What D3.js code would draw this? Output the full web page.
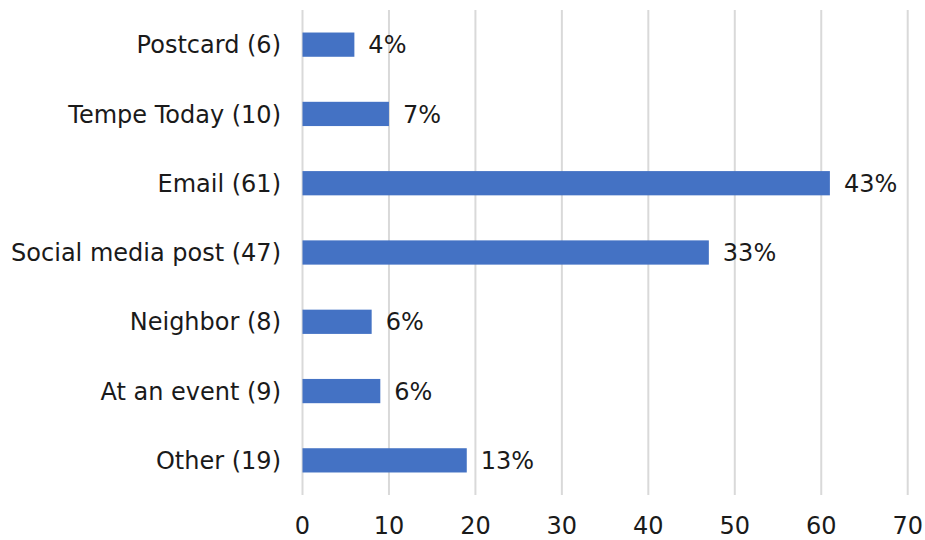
<!DOCTYPE html>
<html><head><meta charset="utf-8">
<script src="https://cdn.jsdelivr.net/npm/d3@7"></script>
<style>body{margin:0;background:#fff}text{font-family:"DejaVu Sans", sans-serif;fill:#1a1a1a}</style>
</head><body>
<svg id="c" width="925" height="540"></svg>
<script>
const categories = ["Postcard (6)","Tempe Today (10)","Email (61)","Social media post (47)","Neighbor (8)","At an event (9)","Other (19)"];
const counts = [6,10,61,47,8,9,19];
const percentLabels = ["4%","7%","43%","33%","6%","6%","13%"];
const xTicks = [0,10,20,30,40,50,60,70];

const svg = d3.select("#c");
const m = {left:302.5, right:17.3, top:10, bottom:45};
const W = 925, H = 540;
const FS = 24;
const x = d3.scaleLinear().domain([0,70]).range([m.left, W - m.right]);
const y = d3.scaleBand().domain(categories).range([m.top, H - m.bottom]).paddingInner(0.65).paddingOuter(0.325);

svg.append("g").selectAll("line").data(xTicks).join("line")
  .attr("x1", d=>x(d)).attr("x2", d=>x(d)).attr("y1", m.top).attr("y2", H - m.bottom)
  .attr("stroke", "#d9d9d9").attr("stroke-width", 2);

svg.append("g").selectAll("rect").data(counts).join("rect")
  .attr("x", x(0)).attr("y", (d,i)=>y(categories[i]))
  .attr("width", d=>x(d)-x(0)).attr("height", y.bandwidth())
  .attr("fill", "#4472c4");

svg.append("g").selectAll("text").data(percentLabels).join("text")
  .attr("x", (d,i)=>x(counts[i]) + 14).attr("y", (d,i)=>y(categories[i]) + y.bandwidth()/2)
  .attr("dy", "0.36em").attr("font-size", FS).text(d=>d);

svg.append("g").selectAll("text").data(categories).join("text")
  .attr("x", 281).attr("y", d=>y(d) + y.bandwidth()/2)
  .attr("dy", "0.36em").attr("text-anchor", "end").attr("font-size", FS).text(d=>d);

svg.append("g").selectAll("text").data(xTicks).join("text")
  .attr("x", d=>x(d)).attr("y", 525).attr("dy", "0.36em")
  .attr("text-anchor", "middle").attr("font-size", FS).text(d=>d);
</script>
</body></html>
